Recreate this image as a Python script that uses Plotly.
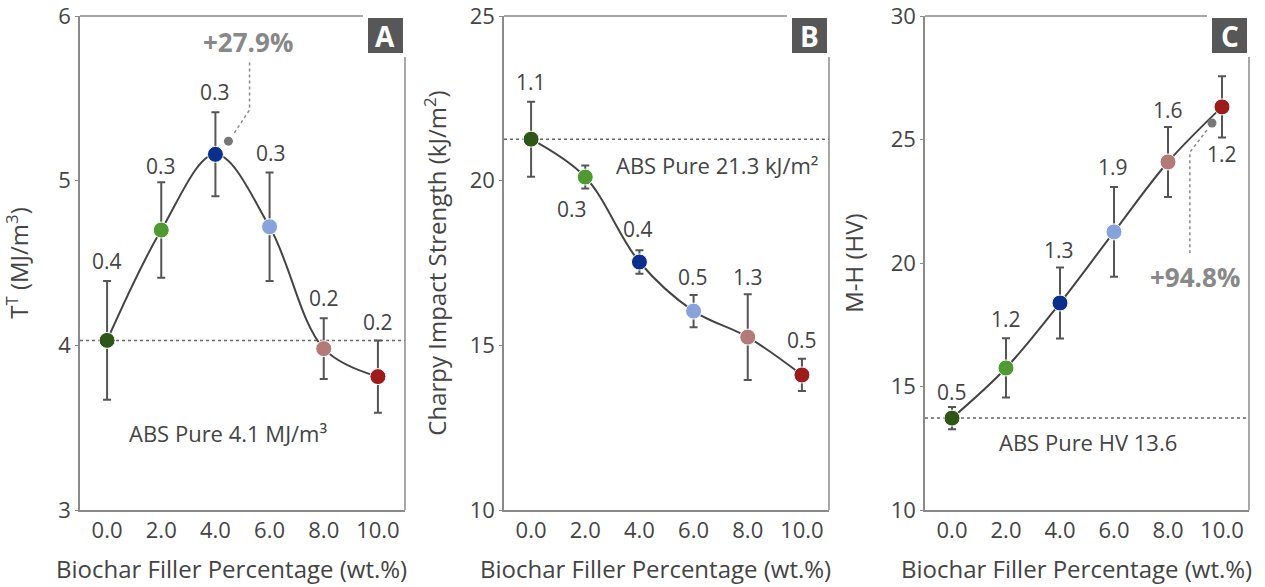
import plotly.graph_objects as go

# ---------------- data ----------------
filler = [0, 2, 4, 6, 8, 10]
tick_text = ["0.0", "2.0", "4.0", "6.0", "8.0", "10.0"]
colors = ["#2f5517", "#4f9a33", "#0b2f8e", "#88a3dc", "#b27a78", "#9c1b1b"]

tough = [4.03, 4.70, 5.16, 4.72, 3.98, 3.81]
tough_err = [0.36, 0.29, 0.255, 0.33, 0.185, 0.22]
tough_lbl = ["0.4", "0.3", "0.3", "0.3", "0.2", "0.2"]
tough_ticks = [3, 4, 5, 6]

charpy = [21.26, 20.11, 17.53, 16.04, 15.25, 14.10]
charpy_err = [1.14, 0.35, 0.36, 0.49, 1.3, 0.49]
charpy_lbl = ["1.1", "0.3", "0.4", "0.5", "1.3", "0.5"]
charpy_ticks = [10, 15, 20, 25]

hard = [13.72, 15.75, 18.38, 21.26, 24.09, 26.32]
hard_err = [0.45, 1.2, 1.44, 1.82, 1.42, 1.24]
hard_lbl = ["0.5", "1.2", "1.3", "1.9", "1.6", "1.2"]
hard_ticks = [10, 15, 20, 25, 30]

# label positions (x, y) in data units
tough_lbl_pos = [(0, 4.51), (2, 5.09), (4, 5.54), (6.04, 5.17), (8, 4.29), (10, 4.14)]
charpy_lbl_pos = [(0, 23.0), (1.52, 19.14), (3.93, 18.53), (5.96, 17.07), (8, 17.07), (10, 15.16)]
hard_lbl_pos = [(0, 14.78), (2, 17.73), (3.96, 20.53), (5.96, 23.89), (8, 26.19), (10, 24.41)]

X_TITLE = "Biochar Filler Percentage (wt.%)"

FONT = "Open Sans"
TXT = "#444444"
AX = "#8a8a8a"

W, H = 1265, 587
ML, MR, MT, MB = 80, 16, 16, 77
PW, PH = W - ML - MR, H - MT - MB


def px(xp):
    return (xp - ML) / PW


def py(yp):
    return (H - MB - yp) / PH


fig = go.Figure()

panels = [
    dict(name="A", y=tough, err=tough_err, xa="x", ya="y", rng=[3, 6], tv=tough_ticks,
         title="T<sup>T</sup> (MJ/m<sup>3</sup>)", lbl=tough_lbl, lpos=tough_lbl_pos,
         left=80, right=405, standoff=26,
         ref=tough[0], reftxt="ABS Pure 4.1 MJ/m³", refpos=(4.48, 3.47)),
    dict(name="B", y=charpy, err=charpy_err, xa="x2", ya="y2", rng=[10, 25], tv=charpy_ticks,
         title="Charpy Impact Strength (kJ/m<sup>2</sup>)", lbl=charpy_lbl, lpos=charpy_lbl_pos,
         left=504, right=829, standoff=16,
         ref=charpy[0], reftxt="ABS Pure 21.3 kJ/m²", refpos=(6.85, 20.48)),
    dict(name="C", y=hard, err=hard_err, xa="x3", ya="y3", rng=[10, 30], tv=hard_ticks,
         title="M-H (HV)", lbl=hard_lbl, lpos=hard_lbl_pos,
         left=925, right=1249, standoff=20,
         ref=hard[0], reftxt="ABS Pure HV 13.6", refpos=(5.04, 12.75)),
]

shapes = []
annotations = []
layout_axes = {}

for i, p in enumerate(panels):
    sfx = "" if i == 0 else str(i + 1)
    xa, ya = p["xa"], p["ya"]
    L, R = p["left"], p["right"]
    # reference dotted line
    shapes.append(dict(type="line", xref="paper", yref=ya, x0=px(L), x1=px(R),
                       y0=p["ref"], y1=p["ref"], line=dict(color="#666666", width=1.5, dash="dot"),
                       layer="below"))
    # spline line
    fig.add_trace(go.Scatter(x=filler, y=p["y"], mode="lines", xaxis=xa, yaxis=ya,
                             line=dict(color="#444444", width=2, shape="spline", smoothing=1.0),
                             showlegend=False, hoverinfo="skip"))
    # markers + error bars
    fig.add_trace(go.Scatter(x=filler, y=p["y"], mode="markers", xaxis=xa, yaxis=ya,
                             marker=dict(size=16, color=colors, line=dict(color="white", width=1)),
                             error_y=dict(type="data", array=p["err"], visible=True,
                                          color="#555555", thickness=2, width=4),
                             showlegend=False))
    # value labels
    for (lx, ly), t in zip(p["lpos"], p["lbl"]):
        annotations.append(dict(x=lx, y=ly, xref=xa, yref=ya, text=t, showarrow=False,
                                font=dict(family=FONT, size=21, color=TXT)))
    annotations.append(dict(x=p["refpos"][0], y=p["refpos"][1], xref=xa, yref=ya, text=p["reftxt"],
                            showarrow=False, font=dict(family=FONT, size=22, color=TXT)))
    # frame: top line (stops before label box) and right line
    shapes.append(dict(type="line", xref="paper", yref="paper", x0=px(L), x1=px(R - 42),
                       y0=1, y1=1, line=dict(color=AX, width=1.5)))
    shapes.append(dict(type="line", xref="paper", yref="paper", x0=px(R), x1=px(R),
                       y0=0, y1=py(57), line=dict(color=AX, width=1.5)))
    # panel letter box
    shapes.append(dict(type="rect", xref="paper", yref="paper", x0=px(R - 37), x1=px(R - 2),
                       y0=py(53), y1=py(18), fillcolor="#575757", line=dict(width=0)))
    annotations.append(dict(x=px(R - 19.5), y=py(35.5), xref="paper", yref="paper",
                            xanchor="center", yanchor="middle",
                            text="<b>%s</b>" % p["name"], showarrow=False,
                            font=dict(family=FONT, size=28, color="white")))
    # x-axis title (slightly left of axis centre, as in reference)
    annotations.append(dict(x=px((L + R) / 2 - 11), y=py(568), xref="paper", yref="paper",
                            xanchor="center", yanchor="middle", text=X_TITLE, showarrow=False,
                            font=dict(family=FONT, size=24, color=TXT)))

    layout_axes["xaxis" + sfx] = dict(
        domain=[px(L), px(R)], range=[-1, 11], anchor=ya, tickvals=filler, ticktext=tick_text,
        showline=True, linecolor=AX, linewidth=1.5, ticks="", showgrid=False, zeroline=False,
        automargin=False, ticklabeloverflow="allow",
        tickfont=dict(family=FONT, size=22, color=TXT))
    layout_axes["yaxis" + sfx] = dict(
        domain=[0, 1], range=[p["rng"][0], p["rng"][1] + 1e-6], tickvals=p["tv"], anchor=xa,
        showline=True, linecolor=AX, linewidth=1.5, ticks="outside", ticklen=3, tickcolor=AX,
        showgrid=False, zeroline=False, automargin=False, ticklabeloverflow="allow",
        tickfont=dict(family=FONT, size=22, color=TXT),
        title=dict(text=p["title"], standoff=p["standoff"], font=dict(family=FONT, size=24, color=TXT)))

# highlight markers (gray dots) and leaders
fig.add_trace(go.Scatter(x=[4.48], y=[5.24], mode="markers", xaxis="x", yaxis="y",
                         marker=dict(size=9, color="#777777"), showlegend=False))
fig.add_trace(go.Scatter(x=[9.63], y=[25.67], mode="markers", xaxis="x3", yaxis="y3",
                         marker=dict(size=9, color="#777777"), showlegend=False))
fig.add_trace(go.Scatter(x=[4.7, 5.26, 5.26], y=[5.29, 5.43, 5.72], mode="lines",
                         xaxis="x", yaxis="y", line=dict(color="#888888", width=1.5, dash="dot"),
                         showlegend=False, hoverinfo="skip"))
fig.add_trace(go.Scatter(x=[9.44, 8.81, 8.81], y=[25.38, 24.49, 20.40], mode="lines",
                         xaxis="x3", yaxis="y3", line=dict(color="#888888", width=1.5, dash="dot"),
                         showlegend=False, hoverinfo="skip"))
annotations.append(dict(x=5.19, y=5.84, xref="x", yref="y", text="<b>+27.9%</b>", showarrow=False,
                        font=dict(family=FONT, size=26, color="#888888")))
annotations.append(dict(x=9.0, y=19.43, xref="x3", yref="y3", text="<b>+94.8%</b>", showarrow=False,
                        font=dict(family=FONT, size=26, color="#888888")))

fig.update_layout(
    width=W, height=H,
    margin=dict(l=ML, r=MR, t=MT, b=MB, autoexpand=False),
    paper_bgcolor="white", plot_bgcolor="white",
    shapes=shapes, annotations=annotations,
    font=dict(family=FONT, color=TXT),
    **layout_axes,
)

fig.write_html("out.html")
